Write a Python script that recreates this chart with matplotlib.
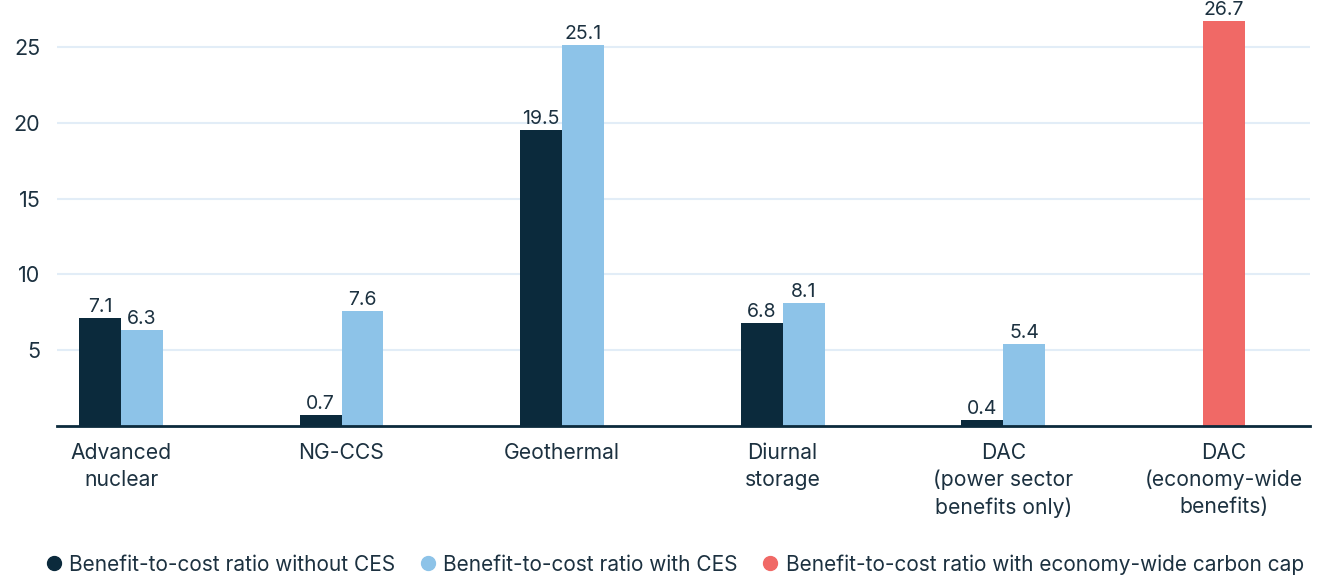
import numpy as np
import matplotlib
matplotlib.use("Agg")
import matplotlib.pyplot as plt
from matplotlib.lines import Line2D

plt.rcParams['font.family'] = ['Inter', 'DejaVu Sans']

categories = ['Advanced\nnuclear', 'NG-CCS', 'Geothermal', 'Diurnal\nstorage',
              'DAC\n(power sector\nbenefits only)', 'DAC\n(economy-wide\nbenefits)']
without_ces = [7.1, 0.7, 19.5, 6.8, 0.4]
with_ces = [6.3, 7.6, 25.1, 8.1, 5.4]
carbon_cap = [26.7]
legend_labels = ['Benefit-to-cost ratio without CES',
                 'Benefit-to-cost ratio with CES',
                 'Benefit-to-cost ratio with economy-wide carbon cap']

c_dark = '#0b2a3c'
c_light = '#8dc3e8'
c_red = '#f06966'
c_text = '#1c3140'
c_grid = '#e2edf7'

fig = plt.figure(figsize=(13.27, 5.76), dpi=100)
ax = fig.add_axes([0.043, 0.2604, 0.944, 0.7370])

x = np.arange(len(categories))
w = 0.19
b1 = ax.bar(x[:5] - w / 2, without_ces, w, color=c_dark, zorder=3)
b2 = ax.bar(x[:5] + w / 2, with_ces, w, color=c_light, zorder=3)
b3 = ax.bar(x[5:], carbon_cap, w, color=c_red, zorder=3)

for bars, vals in [(b1, without_ces), (b2, with_ces), (b3, carbon_cap)]:
    for r, v in zip(bars, vals):
        ax.text(r.get_x() + r.get_width() / 2, v + 0.15, f'{v:.1f}',
                ha='center', va='bottom', fontsize=14, color=c_text)

ax.set_xlim(-0.29, 5.39)
ax.set_ylim(0, 28)
ax.set_yticks([5, 10, 15, 20, 25])
ax.yaxis.grid(True, color=c_grid, linewidth=1.5, zorder=0)
ax.set_axisbelow(True)
ax.tick_params(axis='y', length=0, labelsize=15.5, colors=c_text, pad=12)
ax.set_xticks(x)
ax.set_xticklabels(categories, fontsize=15.2, color=c_text, linespacing=1.43)
ax.tick_params(axis='x', length=0, pad=12)
for s in ['top', 'right', 'left']:
    ax.spines[s].set_visible(False)
ax.spines['bottom'].set_color(c_dark)
ax.spines['bottom'].set_linewidth(2)
ax.spines['bottom'].set_zorder(4)

handles = [Line2D([], [], marker='o', linestyle='none', markersize=10,
                  markerfacecolor=c, markeredgecolor=c)
           for c in (c_dark, c_light, c_red)]
fig.legend(handles, legend_labels, loc='lower center', ncol=3, frameon=False,
           fontsize=15.0, labelcolor=c_text, handletextpad=0.05,
           columnspacing=0.85, handlelength=1.4,
           bbox_to_anchor=(0.506, -0.03))

fig.savefig('out.png', dpi=100)
